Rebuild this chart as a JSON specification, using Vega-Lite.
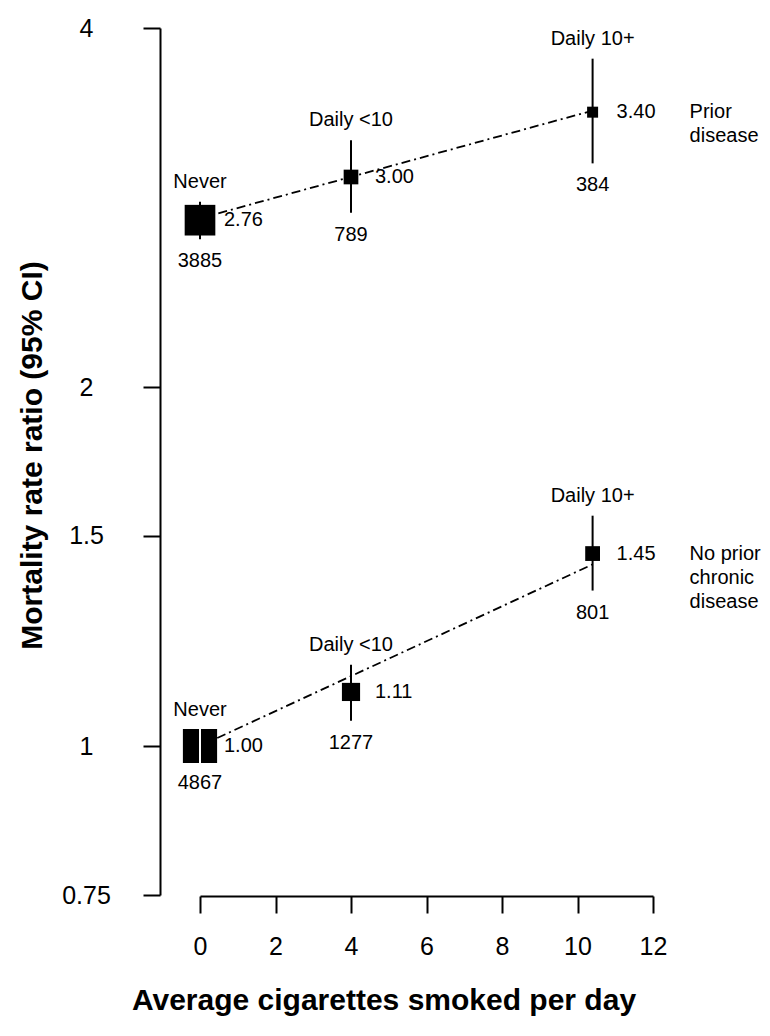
{
  "$schema": "https://vega.github.io/schema/vega-lite/v6.json",
  "width": 453,
  "height": 867,
  "autosize": {"type": "none"},
  "padding": {"left": 200, "top": 28, "right": 117, "bottom": 141},
  "background": "white",
  "config": {
    "font": "Liberation Sans",
    "view": {"stroke": null},
    "axis": {"grid": false, "domainColor": "black", "tickColor": "black", "labelColor": "black", "titleColor": "black"}
  },
  "datasets": {
    "pts": [
      {"group": "Prior disease", "glabel": "Prior\ndisease", "cat": "Never", "x": 0, "rr": 2.76, "lo": 2.66, "hi": 2.86, "n": 3885, "ref": false},
      {"group": "Prior disease", "glabel": "Prior\ndisease", "cat": "Daily <10", "x": 4, "rr": 3.00, "lo": 2.80, "hi": 3.22, "n": 789, "ref": false},
      {"group": "Prior disease", "glabel": "Prior\ndisease", "cat": "Daily 10+", "x": 10.4, "rr": 3.40, "lo": 3.08, "hi": 3.77, "n": 384, "ref": false},
      {"group": "No prior chronic disease", "glabel": "No prior\nchronic\ndisease", "cat": "Never", "x": 0, "rr": 1.00, "lo": 1.00, "hi": 1.00, "n": 4867, "ref": true},
      {"group": "No prior chronic disease", "glabel": "No prior\nchronic\ndisease", "cat": "Daily <10", "x": 4, "rr": 1.11, "lo": 1.05, "hi": 1.17, "n": 1277, "ref": false},
      {"group": "No prior chronic disease", "glabel": "No prior\nchronic\ndisease", "cat": "Daily 10+", "x": 10.4, "rr": 1.45, "lo": 1.35, "hi": 1.56, "n": 801, "ref": false}
    ],
    "trend": [
      {"group": "Prior disease", "x": 0, "rr": 2.77},
      {"group": "Prior disease", "x": 10.4, "rr": 3.41},
      {"group": "No prior chronic disease", "x": 0, "rr": 1.00},
      {"group": "No prior chronic disease", "x": 10.4, "rr": 1.42}
    ]
  },
  "layer": [
    {
      "data": {"name": "trend"},
      "mark": {"type": "line", "color": "black", "strokeWidth": 1.8, "strokeDash": [9, 4, 2, 4]},
      "encoding": {
        "x": {
          "field": "x", "type": "quantitative",
          "scale": {"domain": [0, 12], "nice": false, "zero": false},
          "axis": {
            "values": [0, 2, 4, 6, 8, 10, 12],
            "title": "Average cigarettes smoked per day",
            "titleFontSize": 30, "titleFontWeight": "bold",
            "titleX": 183.5, "titleY": 113, "titleBaseline": "alphabetic", "titleAlign": "center", "titleAnchor": null,
            "labelFontSize": 25, "labelPadding": 21, "labelFlush": false, "labelOverlap": false,
            "tickSize": 17, "tickWidth": 2, "domainWidth": 2, "offset": 1
          }
        },
        "y": {
          "field": "rr", "type": "quantitative",
          "scale": {"type": "log", "domain": [0.75, 4], "nice": false, "zero": false},
          "axis": {
            "values": [0.75, 1, 1.5, 2, 4],
            "format": "~g",
            "title": "Mortality rate ratio (95% CI)",
            "titleFontSize": 30, "titleFontWeight": "bold",
            "titleX": -118.5, "titleY": 427, "titleBaseline": "alphabetic", "titleAlign": "center", "titleAngle": -90, "titleAnchor": null,
            "labelFontSize": 25, "labelPadding": 57, "labelAlign": "center", "labelBaseline": "middle", "labelFlush": false, "labelOverlap": false,
            "tickSize": 17, "tickWidth": 2, "domainWidth": 2, "offset": 40
          }
        },
        "detail": {"field": "group"}
      }
    },
    {
      "data": {"name": "pts"},
      "mark": {"type": "rule", "color": "black", "strokeWidth": 2},
      "encoding": {
        "x": {"field": "x", "type": "quantitative"},
        "y": {"field": "lo", "type": "quantitative"},
        "y2": {"field": "hi"}
      }
    },
    {
      "data": {"name": "pts"},
      "mark": {"type": "square", "filled": true, "color": "black", "opacity": 1},
      "encoding": {
        "x": {"field": "x", "type": "quantitative"},
        "y": {"field": "rr", "type": "quantitative"},
        "size": {"field": "n", "type": "quantitative", "scale": {"domain": [384, 4867], "range": [121, 1170], "zero": false}, "legend": null}
      }
    },
    {
      "data": {"name": "pts"},
      "transform": [{"filter": "datum.ref"}],
      "mark": {"type": "point", "shape": "M0,-1V1", "filled": false, "stroke": "white", "strokeWidth": 2, "opacity": 1},
      "encoding": {
        "x": {"field": "x", "type": "quantitative"},
        "y": {"field": "rr", "type": "quantitative"},
        "size": {"field": "n", "type": "quantitative", "legend": null}
      }
    },
    {
      "data": {"name": "pts"},
      "mark": {"type": "text", "align": "left", "baseline": "middle", "dx": 24, "fontSize": 20, "color": "black"},
      "encoding": {
        "x": {"field": "x", "type": "quantitative"},
        "y": {"field": "rr", "type": "quantitative"},
        "text": {"field": "rr", "type": "quantitative", "format": ".2f"}
      }
    },
    {
      "data": {"name": "pts"},
      "transform": [{"filter": "!datum.ref"}],
      "mark": {"type": "text", "align": "center", "baseline": "alphabetic", "dy": -14, "fontSize": 20, "color": "black"},
      "encoding": {
        "x": {"field": "x", "type": "quantitative"},
        "y": {"field": "hi", "type": "quantitative"},
        "text": {"field": "cat", "type": "nominal"}
      }
    },
    {
      "data": {"name": "pts"},
      "transform": [{"filter": "datum.ref"}],
      "mark": {"type": "text", "align": "center", "baseline": "alphabetic", "dy": -30, "fontSize": 20, "color": "black"},
      "encoding": {
        "x": {"field": "x", "type": "quantitative"},
        "y": {"field": "hi", "type": "quantitative"},
        "text": {"field": "cat", "type": "nominal"}
      }
    },
    {
      "data": {"name": "pts"},
      "transform": [{"filter": "!datum.ref"}],
      "mark": {"type": "text", "align": "center", "baseline": "top", "dy": 12, "fontSize": 20, "color": "black"},
      "encoding": {
        "x": {"field": "x", "type": "quantitative"},
        "y": {"field": "lo", "type": "quantitative"},
        "text": {"field": "n", "type": "quantitative", "format": "d"}
      }
    },
    {
      "data": {"name": "pts"},
      "transform": [{"filter": "datum.ref"}],
      "mark": {"type": "text", "align": "center", "baseline": "top", "dy": 27, "fontSize": 20, "color": "black"},
      "encoding": {
        "x": {"field": "x", "type": "quantitative"},
        "y": {"field": "lo", "type": "quantitative"},
        "text": {"field": "n", "type": "quantitative", "format": "d"}
      }
    },
    {
      "data": {"name": "pts"},
      "transform": [{"filter": "datum.cat == 'Daily 10+'"}],
      "mark": {"type": "text", "align": "left", "baseline": "middle", "dx": 97, "fontSize": 20, "lineBreak": "\n", "lineHeight": 24, "color": "black"},
      "encoding": {
        "x": {"field": "x", "type": "quantitative"},
        "y": {"field": "rr", "type": "quantitative"},
        "text": {"field": "glabel", "type": "nominal"}
      }
    }
  ]
}
